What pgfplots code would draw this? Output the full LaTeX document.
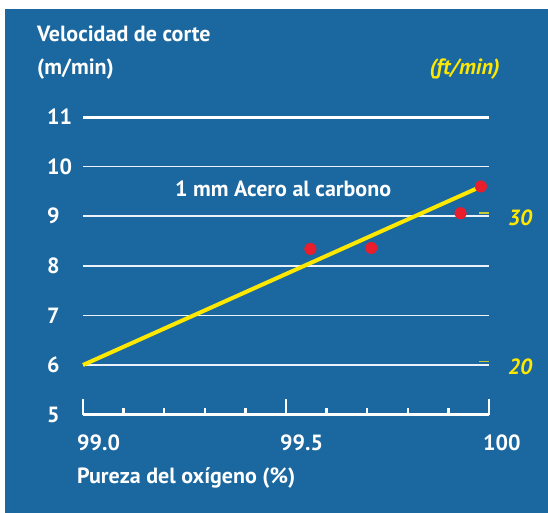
\documentclass[border=0pt]{standalone}
\usepackage{fontspec}
\setmainfont{PT Sans}[UprightFont={* Bold},ItalicFont={* Bold Italic}]
\usepackage{pgfplots}
\pgfplotsset{compat=1.18}
\definecolor{bgblue}{RGB}{27,104,160}
\definecolor{lyell}{RGB}{255,232,0}
\definecolor{tyell}{RGB}{200,200,50}
\definecolor{dred}{RGB}{232,30,45}
\definecolor{gridw}{RGB}{235,242,250}
\newcommand{\lbl}{\fontsize{22}{26}\selectfont}
\begin{document}
\begin{tikzpicture}[x=1pt,y=1pt]
\fill[white] (0,0) rectangle (548,513);
\fill[bgblue] (5,0) rectangle (548,504);
\begin{axis}[
  at={(83pt,98.4pt)}, anchor=south west,
  scale only axis, width=406pt, height=297.6pt,
  xmin=99, xmax=100, ymin=5, ymax=11,
  clip=false,
  axis x line*=bottom, axis y line*=left,
  y axis line style={draw=none},
  x axis line style={white, line width=3pt, -},
  xtick={99,99.5,100}, xticklabels={99.0,99.5,100},
  minor xtick={99.1,99.2,99.3,99.4,99.6,99.7,99.8,99.9},
  tick align=inside,
  xtick style={white, line width=2.5pt},
  minor tick length=7pt, major tick length=16pt,
  ytick={5,6,7,8,9,10,11},
  ytick style={draw=none},
  ymajorgrids, grid style={gridw, line width=1.5pt},
  /pgf/number format/assume math mode=true,
  tick label style={font=\lbl, text=white},
  xticklabel style={anchor=north west, inner sep=0pt, xshift=-6pt, yshift=-20pt},
  yticklabel style={anchor=west, inner sep=0pt, xshift=-36pt},
]
\addplot[white, line width=3pt, forget plot] coordinates {(99,11) (100,11)};
\addplot[lyell, line width=4pt] coordinates {(99.0,6.0) (99.97,9.56)};
\addplot[only marks, mark=*, mark size=5.7pt, color=dred, mark options={draw=dred, fill=dred, line width=0.6pt, solid}] coordinates {
(99.56,8.34) (99.71,8.36) (99.93,9.06) (99.98,9.60)};
\end{axis}
\begin{axis}[
  at={(83pt,98.4pt)}, anchor=south west,
  scale only axis, width=406pt, height=297.6pt,
  xmin=99, xmax=100, ymin=5, ymax=11,
  axis x line=none, axis y line*=right,
  y axis line style={draw=none},
  ytick={6.07,9.06}, yticklabels={20,30},
  tick align=inside, major tick length=10pt,
  ytick style={tyell, line width=1.5pt},
  tick label style={font=\lbl\itshape, text=lyell},
  yticklabel style={anchor=west, inner sep=0pt, xshift=19pt, yshift=-5pt},
]
\addplot[draw=none] coordinates {(99,5)};
\end{axis}
\node[anchor=base west, inner sep=0, text=white, font=\lbl] at (37,471.3) {Velocidad de corte};
\node[anchor=base west, inner sep=0, text=white, font=\lbl] at (37,438) {(m/min)};
\node[anchor=base east, inner sep=0, text=lyell, font=\lbl\itshape] at (500,438) {(ft/min)};
\node[anchor=base west, inner sep=0, text=white, font=\lbl] at (175,316) {1 mm Acero al carbono};
\node[anchor=base west, inner sep=0, text=white, font=\lbl] at (77,29) {Pureza del oxígeno (\%)};
\pgfresetboundingbox
\useasboundingbox (0,0) rectangle (548,513);
\end{tikzpicture}
\end{document}
